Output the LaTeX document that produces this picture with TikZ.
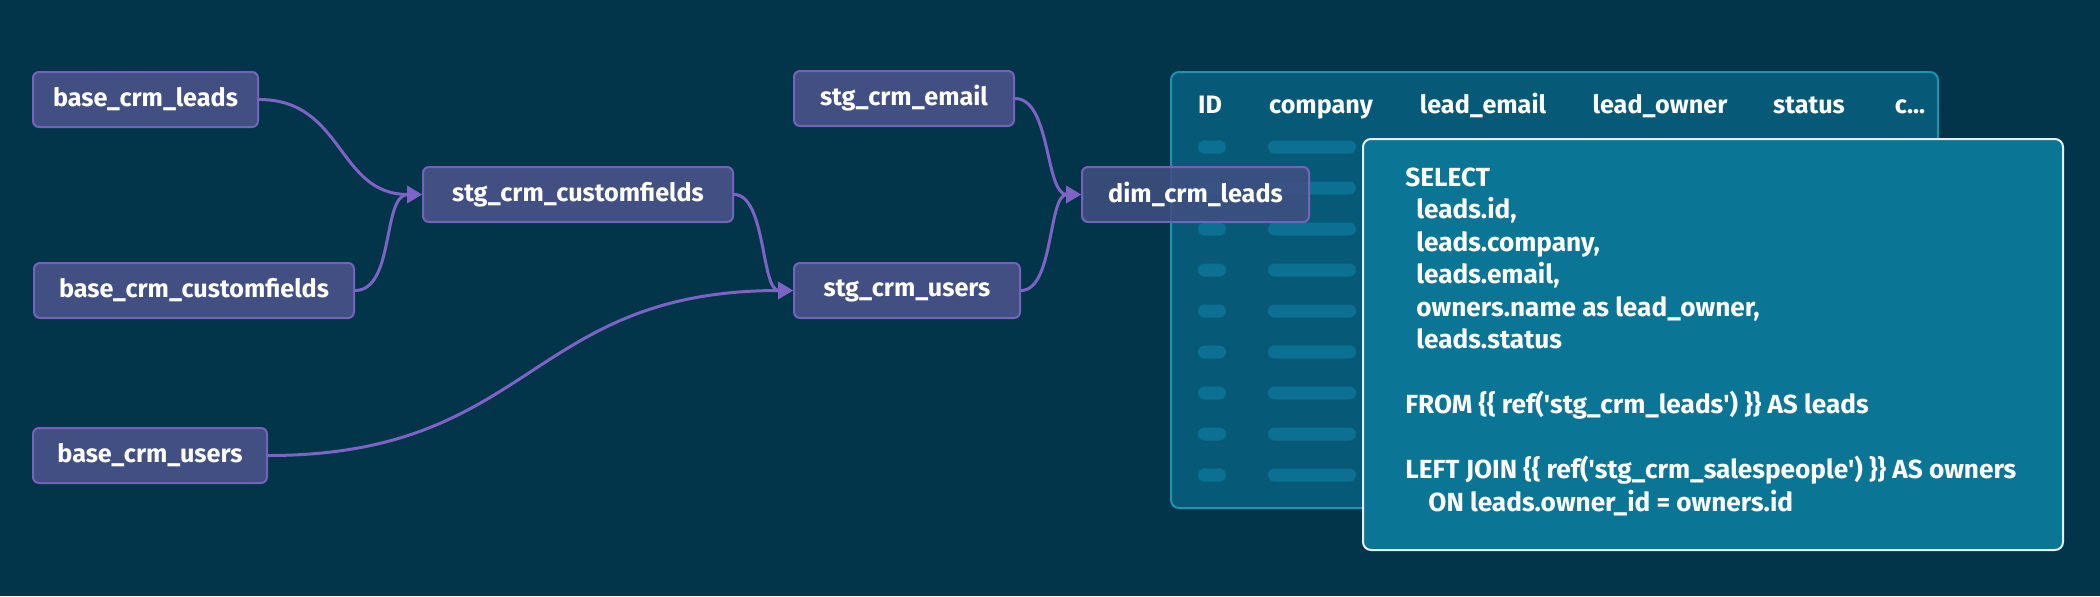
\documentclass[tikz,border=0pt]{standalone}
\usepackage{fontspec}
\setmainfont{Fira Sans}
\usetikzlibrary{arrows.meta}
\definecolor{bg}{HTML}{03354A}
\definecolor{boxfill}{HTML}{414F82}
\definecolor{boxborder}{HTML}{7562BA}
\definecolor{edgecol}{HTML}{7C63C4}
\definecolor{tblfill}{HTML}{065A78}
\definecolor{tblborder}{HTML}{1E93AE}
\definecolor{pillcol}{HTML}{0B7092}
\definecolor{sqlfill}{HTML}{0B7596}
\definecolor{sqlborder}{HTML}{E6EEF2}
\newcommand{\sq}{\textquotesingle}
\tikzset{
  model/.style={draw=boxborder, fill=boxfill, rounded corners=3pt, line width=1pt,
    minimum height=27.5pt, inner xsep=0pt, text=white,
    font=\bfseries\fontsize{12.6}{14}\selectfont},
  edge/.style={draw=edgecol, line width=1.5pt, -{Triangle[length=7.5pt,width=8.5pt]}},
  hdr/.style={anchor=base, text=white, font=\bfseries\fontsize{12.6}{14}\selectfont, inner sep=0pt},
  sql/.style={anchor=base west, text=white, font=\bfseries\fontsize{13.1}{14}\selectfont, inner sep=0pt},
  pill/.style={fill=pillcol, rounded corners=3.2pt}
}
\begin{document}
\begin{tikzpicture}[x=0.5pt,y=-0.5pt]
\fill[bg] (0,0) rectangle (2100,596);
\useasboundingbox (0,0) rectangle (2100,596);

% table panel
\draw[draw=tblborder, fill=tblfill, line width=1pt, rounded corners=4pt] (1171,72) rectangle (1938,508);
\node[hdr] (hID) at (1210,113) {ID};
\node[hdr] (hco) at (1321,113) {company};
\node[hdr] (hle) at (1483,113) {lead\_email};
\node[hdr] (hlo) at (1660,113) {lead\_owner};
\node[hdr] (hst) at (1809,113) {status};
\node[hdr] (hc) at (1910,113) {c...};
\foreach \y in {147,188,229,270,311,352,393,434,475}{
  \fill[pill] (1198,\y-6.5) rectangle (1226,\y+6.5);
  \fill[pill] (1268,\y-6.5) rectangle (1356,\y+6.5);
}

% model nodes
\node[model, minimum width=112.5pt] (bl) at (145.5,99.5) {base\_crm\_leads};
\node[model, minimum width=160pt] (bc) at (194,290.5) {base\_crm\_customfields};
\node[model, minimum width=117pt] (bu) at (150,455.5) {base\_crm\_users};
\node[model, minimum width=155pt] (sc) at (578,194.5) {stg\_crm\_customfields};
\node[model, minimum width=110pt] (se) at (904,98.5) {stg\_crm\_email};
\node[model, minimum width=113pt] (su) at (907,290.5) {stg\_crm\_users};
\node[model, minimum width=113.5pt, fill opacity=0.85, text opacity=1] (dl) at (1195.5,194.5) {dim\_crm\_leads};

% edges
\draw[edge] (bl.east) .. controls +(85,0) and +(-85,0) .. (sc.west);
\draw[edge] (bc.east) .. controls +(40,0) and +(-40,0) .. (sc.west);
\draw[edge] (sc.east) .. controls +(32,0) and +(-32,0) .. (su.west);
\draw[edge] (bu.east) .. controls +(265,0) and +(-265,0) .. (su.west);
\draw[edge] (se.east) .. controls +(36,0) and +(-36,0) .. (dl.west);
\draw[edge] (su.east) .. controls +(33,0) and +(-33,0) .. (dl.west);

% SQL panel
\draw[draw=sqlborder, fill=sqlfill, line width=1pt, rounded corners=4pt] (1363,139) rectangle (2063,550);
\node[sql] (s1) at (1405,186) {SELECT};
\node[sql] (s2) at (1416,218.5) {leads.id,};
\node[sql] (s3) at (1416,251) {leads.company,};
\node[sql] (s4) at (1416,283.5) {leads.email,};
\node[sql] (s5) at (1416,316) {owners.name as lead\_owner,};
\node[sql] (s6) at (1416,348.5) {leads.status};
\node[sql] (s7) at (1405,413.5) {FROM \{\{ ref(\sq stg\_crm\_leads\sq) \}\} AS leads};
\node[sql] (s8) at (1405,478.5) {LEFT JOIN \{\{ ref(\sq stg\_crm\_salespeople\sq) \}\} AS owners};
\node[sql] (s9) at (1428,511) {ON leads.owner\_id = owners.id};
\end{tikzpicture}
\end{document}
